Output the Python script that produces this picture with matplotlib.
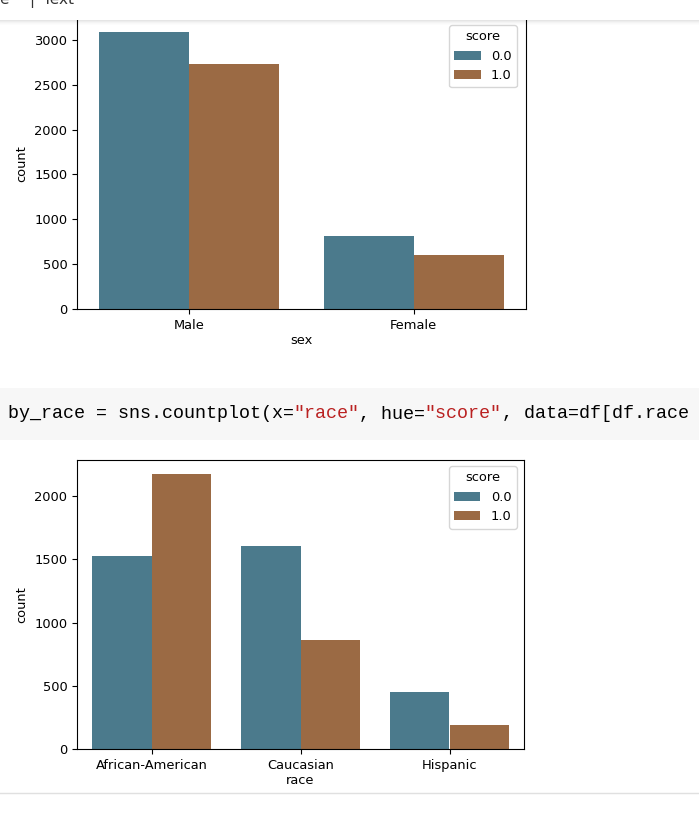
import matplotlib
matplotlib.use("Agg")
import matplotlib.pyplot as plt
from matplotlib.patches import Rectangle
import numpy as np

# counts
sex_labels = ["Male", "Female"]
sex_score0 = [3090, 812]
sex_score1 = [2730, 600]

race_labels = ["African-American", "Caucasian", "Hispanic"]
race_score0 = [1525, 1610, 452]
race_score1 = [2178, 862, 190]

hue_labels = ["0.0", "1.0"]
colors = ["#4b7a8c", "#9b6a44"]

W, H = 699, 816
fig = plt.figure(figsize=(W / 100, H / 100), dpi=100)
fs = 9.4


def px_axes(left, right, top, bottom):
    return fig.add_axes([left / W, 1 - bottom / H, (right - left) / W, (bottom - top) / H])


def countplot(ax, labels, s0, s1, xlabel, ytop, leg_anchor):
    x = np.arange(len(labels))
    ax.bar(x - 0.2, s0, width=0.4, color=colors[0], label=hue_labels[0])
    ax.bar(x + 0.2, s1, width=0.4, color=colors[1], label=hue_labels[1])
    ax.set_xlim(-0.5, len(labels) - 0.5)
    ax.set_ylim(0, ytop)
    ax.set_xticks(x)
    ax.set_xticklabels(labels)
    ax.set_xlabel(xlabel, fontsize=fs, labelpad=2)
    ax.set_ylabel("count", fontsize=fs)
    ax.tick_params(labelsize=fs)
    ax.legend(title="score", fontsize=fs, title_fontsize=fs, loc="upper right",
              bbox_to_anchor=leg_anchor, borderaxespad=0)


ax1 = px_axes(77, 526, 18, 309)
countplot(ax1, sex_labels, sex_score0, sex_score1, "sex", 3245, (0.98, 0.976))

ax2 = px_axes(77, 524, 460, 749)
countplot(ax2, race_labels, race_score0, race_score1, "race", 2287, (0.984, 0.979))

# notebook chrome drawn in pixel coords on top
ov = fig.add_axes([0, 0, 1, 1], zorder=10)
ov.set_xlim(0, W)
ov.set_ylim(H, 0)
ov.axis("off")
ov.patch.set_alpha(0)

ov.add_patch(Rectangle((0, 0), W, 20, color="white", lw=0))
for i, a in enumerate([0.10, 0.07, 0.045, 0.025, 0.012]):
    ov.add_patch(Rectangle((0, 20 + i), W, 1, color="black", alpha=a, lw=0))
ov.text(-1, 0, "e", fontsize=11, color="#333333", va="center", ha="left")
ov.text(29, 0, "|", fontsize=11, color="#333333", va="center", ha="left")
ov.text(43, 0, "Text", fontsize=11, color="#333333", va="center", ha="left")

ov.add_patch(Rectangle((0, 388), W, 52, color="#f7f7f7", lw=0))
mono = dict(family="Liberation Mono", fontsize=13.2, va="center", ha="left")
code_parts = [
    ("by_race = sns.countplot(x=", "#000000"),
    ('"race"', "#ba2121"),
    (", hue=", "#000000"),
    ('"score"', "#ba2121"),
    (", data=df[df.race", "#000000"),
]
cx = 8
char_w = 10.97
for txt, col in code_parts:
    ov.text(cx, 414, txt, color=col, **mono)
    cx += len(txt) * char_w

ov.plot([0, W], [793, 793], color="#e0e0e0", lw=1)

fig.savefig("out.png", dpi=100)
